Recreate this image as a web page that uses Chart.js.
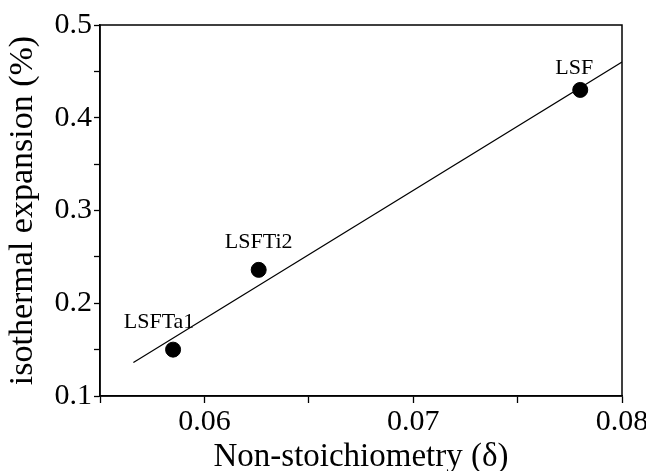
<!DOCTYPE html>
<html>
<head>
<meta charset="utf-8">
<script src="https://cdn.jsdelivr.net/npm/chart.js@4/dist/chart.umd.min.js"></script>
<style>
  html, body { margin: 0; padding: 0; background: #fff; }
  #wrap { width: 646px; height: 471px; }
</style>
</head>
<body>
<div id="wrap"><canvas id="chart" width="646" height="471"></canvas></div>
<script>
// samples
const sampleNames = ['LSFTa1', 'LSFTi2', 'LSF'];
const deltaValues = [0.0585, 0.0626, 0.0780];
const expansionValues = [0.150, 0.236, 0.430];

// linear fit endpoints
const fitX = [0.0566, 0.080];
const fitY = [0.136, 0.460];

const xTicks = [0.06, 0.07, 0.08];
const yTicks = [0.1, 0.2, 0.3, 0.4, 0.5];

// label nudges relative to each point (px)
const labelDx = [-14, 0, -6];
const labelDy = [-22, -22, -16];

const FONT = "'Liberation Serif', 'DejaVu Serif', serif";

const frame = {
  id: 'frame',
  afterDraw(chart) {
    const { ctx, chartArea: a } = chart;
    ctx.save();
    ctx.strokeStyle = '#000';
    ctx.lineWidth = 1.5;
    ctx.strokeRect(a.left, a.top, a.right - a.left, a.bottom - a.top);
    ctx.restore();
  }
};

const pointLabels = {
  id: 'pointLabels',
  afterDatasetsDraw(chart) {
    const { ctx } = chart;
    const meta = chart.getDatasetMeta(0);
    ctx.save();
    ctx.fillStyle = '#000';
    ctx.font = '22px ' + FONT;
    ctx.textAlign = 'center';
    ctx.textBaseline = 'alphabetic';
    meta.data.forEach((pt, i) => {
      ctx.fillText(sampleNames[i], pt.x + labelDx[i], pt.y + labelDy[i]);
    });
    ctx.restore();
  }
};

const near = (v, list) => list.some(t => Math.abs(v - t) < 1e-6);

new Chart(document.getElementById('chart'), {
  type: 'scatter',
  data: {
    datasets: [
      {
        label: 'samples',
        data: deltaValues.map((x, i) => ({ x: x, y: expansionValues[i] })),
        backgroundColor: '#000',
        borderColor: '#000',
        pointRadius: 7.5,
        pointHoverRadius: 7.5
      },
      {
        type: 'line',
        label: 'fit',
        data: fitX.map((x, i) => ({ x: x, y: fitY[i] })),
        borderColor: '#000',
        borderWidth: 1.2,
        pointRadius: 0,
        fill: false
      }
    ]
  },
  options: {
    responsive: false,
    animation: false,
    layout: { padding: { top: 25, right: 24, left: 0, bottom: 0 } },
    plugins: { legend: { display: false }, tooltip: { enabled: false } },
    scales: {
      x: {
        type: 'linear',
        min: 0.055,
        max: 0.08,
        afterBuildTicks(scale) {
          const t = [];
          for (let k = 0; k <= 5; k++) t.push({ value: +(0.055 + k * 0.005).toFixed(3) });
          scale.ticks = t;
        },
        afterFit(scale) {
          scale.height = 75;
          scale.paddingRight = 0;
          scale.paddingLeft = 0;
        },
        border: { display: true, color: '#000', width: 1.5 },
        grid: {
          drawOnChartArea: false,
          drawTicks: true,
          tickLength: 7,
          tickColor: '#000',
          tickWidth: 1.3
        },
        ticks: {
          color: '#000',
          padding: 4,
          maxRotation: 0,
          autoSkip: false,
          font: { family: FONT, size: 30, lineHeight: 1 },
          callback: v => near(v, xTicks) ? v.toFixed(2) : ''
        },
        title: {
          display: true,
          text: 'Non-stoichiometry (\u03b4)',
          color: '#000',
          padding: { top: 0, bottom: -3 },
          font: { family: FONT, size: 33, lineHeight: 1 }
        }
      },
      y: {
        type: 'linear',
        min: 0.1,
        max: 0.5,
        afterBuildTicks(scale) {
          const t = [];
          for (let k = 0; k <= 8; k++) t.push({ value: +(0.1 + k * 0.05).toFixed(2) });
          scale.ticks = t;
        },
        afterFit(scale) {
          scale.width = 100;
          scale.paddingTop = 0;
          scale.paddingBottom = 0;
        },
        border: { display: true, color: '#000', width: 1.5 },
        grid: {
          drawOnChartArea: false,
          drawTicks: true,
          tickLength: 6,
          tickColor: '#000',
          tickWidth: 1.3
        },
        ticks: {
          color: '#000',
          padding: 2,
          autoSkip: false,
          font: { family: FONT, size: 30, lineHeight: 1 },
          callback: v => near(v, yTicks) ? v.toFixed(1) : ''
        },
        title: {
          display: true,
          text: 'isothermal expansion (%)',
          color: '#000',
          padding: { top: 6, bottom: 0 },
          font: { family: FONT, size: 34, lineHeight: 1 }
        }
      }
    }
  },
  plugins: [frame, pointLabels]
});
</script>
</body>
</html>
